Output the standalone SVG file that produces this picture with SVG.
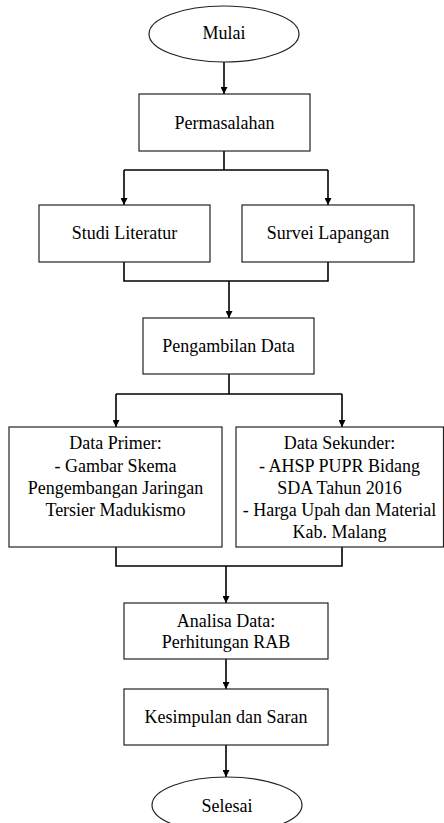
<svg xmlns="http://www.w3.org/2000/svg" width="444" height="823" viewBox="0 0 444 823">
<style>
.b{fill:#fff;stroke:#222;stroke-width:1.2}
.t{font-family:'Liberation Serif',serif;font-size:18px;fill:#000;text-anchor:middle}
.c{fill:none;stroke:#000;stroke-width:1.6}
</style>
<defs>
<marker id="ah" viewBox="0 0 10 10" refX="10" refY="5" markerWidth="7" markerHeight="7" markerUnits="userSpaceOnUse" orient="auto"><path d="M0,0 L10,5 L0,10 z" fill="#000"/></marker>
</defs>
<rect width="444" height="823" fill="#fff"/>
<g id="connectors">
<path class="c" d="M224,62 V94" marker-end="url(#ah)"/>
<path class="c" d="M224,151 V170 M124,170 H328"/>
<path class="c" d="M124,170 V205" marker-end="url(#ah)"/>
<path class="c" d="M328,170 V205" marker-end="url(#ah)"/>
<path class="c" d="M124,262 V281 H328 V262"/>
<path class="c" d="M229,281 V318" marker-end="url(#ah)"/>
<path class="c" d="M229,374 V394 M116,394 H342"/>
<path class="c" d="M116,394 V427" marker-end="url(#ah)"/>
<path class="c" d="M342,394 V427" marker-end="url(#ah)"/>
<path class="c" d="M116,547 V566 H342 V547"/>
<path class="c" d="M226,566 V603" marker-end="url(#ah)"/>
<path class="c" d="M226,659 V689" marker-end="url(#ah)"/>
<path class="c" d="M226,745 V777" marker-end="url(#ah)"/>
</g>
<g id="mulai"><ellipse class="b" cx="224" cy="34" rx="75" ry="28"/><text class="t" font-family="'Liberation Serif', serif" x="224" y="39">Mulai</text></g>
<g id="permasalahan"><rect class="b" x="139" y="94" width="171" height="57"/><text class="t" font-family="'Liberation Serif', serif" x="224.5" y="129">Permasalahan</text></g>
<g id="studi"><rect class="b" x="39" y="205" width="171" height="57"/><text class="t" font-family="'Liberation Serif', serif" x="124.5" y="239">Studi Literatur</text></g>
<g id="survei"><rect class="b" x="242" y="205" width="172" height="57"/><text class="t" font-family="'Liberation Serif', serif" x="328" y="239">Survei Lapangan</text></g>
<g id="pengambilan"><rect class="b" x="143" y="318" width="171" height="56"/><text class="t" font-family="'Liberation Serif', serif" x="228.5" y="352">Pengambilan Data</text></g>
<g id="primer"><rect class="b" x="9" y="427" width="213" height="120"/>
<text class="t" font-family="'Liberation Serif', serif" x="115.5" y="449">Data Primer:</text>
<text class="t" font-family="'Liberation Serif', serif" x="115.5" y="472">- Gambar Skema</text>
<text class="t" font-family="'Liberation Serif', serif" x="115.5" y="494">Pengembangan Jaringan</text>
<text class="t" font-family="'Liberation Serif', serif" x="115.5" y="516">Tersier Madukismo</text></g>
<g id="sekunder"><rect class="b" x="236" y="427" width="207.5" height="120"/>
<text class="t" font-family="'Liberation Serif', serif" x="339.5" y="449">Data Sekunder:</text>
<text class="t" font-family="'Liberation Serif', serif" x="339.5" y="472">- AHSP PUPR Bidang</text>
<text class="t" font-family="'Liberation Serif', serif" x="339.5" y="494">SDA Tahun 2016</text>
<text class="t" font-family="'Liberation Serif', serif" x="339.5" y="516">- Harga Upah dan Material</text>
<text class="t" font-family="'Liberation Serif', serif" x="339.5" y="538">Kab. Malang</text></g>
<g id="analisa"><rect class="b" x="124" y="603" width="204" height="56"/>
<text class="t" font-family="'Liberation Serif', serif" x="226" y="627">Analisa Data:</text>
<text class="t" font-family="'Liberation Serif', serif" x="226" y="648">Perhitungan RAB</text></g>
<g id="kesimpulan"><rect class="b" x="124" y="689" width="204" height="56"/><text class="t" font-family="'Liberation Serif', serif" x="226" y="723">Kesimpulan dan Saran</text></g>
<g id="selesai"><ellipse class="b" cx="227" cy="805" rx="75" ry="28"/><text class="t" font-family="'Liberation Serif', serif" x="227" y="812">Selesai</text></g>
</svg>
